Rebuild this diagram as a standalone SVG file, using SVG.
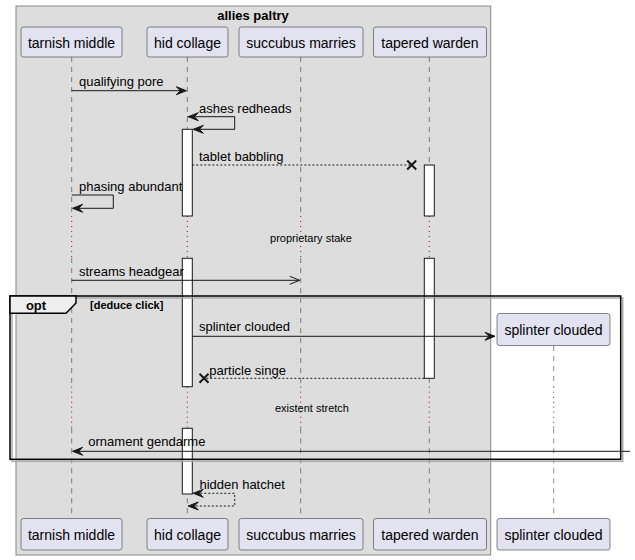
<svg xmlns="http://www.w3.org/2000/svg" width="635" height="560" viewBox="0 0 635 560">
<style>
text{font-family:"Liberation Sans",Arial,sans-serif;fill:#000}
.pt{font-size:14px;text-anchor:middle}
.msg{font-size:13px}
.small{font-size:11px;text-anchor:middle}
.part{fill:#E2E2F0;stroke:#181818;stroke-width:0.5}
.life{stroke:#181818;stroke-width:0.5;stroke-dasharray:5,5;fill:none}
.delay{stroke:#A80036;stroke-width:1;stroke-dasharray:1,4;fill:none}
.act{fill:#FFFFFF;stroke:#181818;stroke-width:1}
.ln{stroke:#181818;stroke-width:1;fill:none}
.dash{stroke:#181818;stroke-width:1;fill:none;stroke-dasharray:2,2}
.ah{fill:#181818;stroke:#181818;stroke-width:1}
.x{stroke:#181818;stroke-width:2}
</style>
<rect x="16" y="6" width="474.7" height="549" fill="#DDDDDD" stroke="#888888" stroke-width="1"/>
<text x="253" y="19.5" font-size="13" font-weight="bold" text-anchor="middle">allies paltry</text>
<g id="lifelines">
<path class="life" d="M71.7,57V216M71.7,258V386.7M71.7,428.3V518.5"/>
<path class="life" d="M187.3,57V216M187.3,258V386.7M187.3,428.3V518.5"/>
<path class="life" d="M300.7,57V216M300.7,258V386.7M300.7,428.3V518.5"/>
<path class="life" d="M429.3,57V216M429.3,258V386.7M429.3,428.3V518.5"/>
<path class="life" d="M553.7,346V386.7M553.7,428.3V518.5"/>
<path class="delay" d="M71.7,216V258M187.3,216V258M300.7,216V258M429.3,216V258"/>
<path class="delay" d="M71.7,386.7V428.3M187.3,386.7V428.3M300.7,386.7V428.3M429.3,386.7V428.3M553.7,386.7V428.3"/>
</g>
<g id="p-tarnish-middle">
<rect class="part" x="21" y="27" width="101" height="30" rx="2.5"/>
<text class="pt" x="71.5" y="48">tarnish middle</text>
<rect class="part" x="21" y="518.5" width="101" height="31.5" rx="2.5"/>
<text class="pt" x="71.5" y="540">tarnish middle</text>
</g>
<g id="p-hid-collage">
<rect class="part" x="147" y="27" width="81" height="30" rx="2.5"/>
<text class="pt" x="187.5" y="48">hid collage</text>
<rect class="part" x="147" y="518.5" width="81" height="31.5" rx="2.5"/>
<text class="pt" x="187.5" y="540">hid collage</text>
</g>
<g id="p-succubus-marries">
<rect class="part" x="239" y="27" width="124" height="30" rx="2.5"/>
<text class="pt" x="301" y="48">succubus marries</text>
<rect class="part" x="239" y="518.5" width="124" height="31.5" rx="2.5"/>
<text class="pt" x="301" y="540">succubus marries</text>
</g>
<g id="p-tapered-warden">
<rect class="part" x="373.5" y="27" width="113" height="30" rx="2.5"/>
<text class="pt" x="430" y="48">tapered warden</text>
<rect class="part" x="373.5" y="518.5" width="113" height="31.5" rx="2.5"/>
<text class="pt" x="430" y="540">tapered warden</text>
</g>
<g id="p-splinter-clouded">
<rect class="part" x="497" y="313.5" width="113" height="32" rx="2.5"/>
<text class="pt" x="553.5" y="335">splinter clouded</text>
<rect class="part" x="497" y="518.5" width="113" height="31.5" rx="2.5"/>
<text class="pt" x="553.5" y="540">splinter clouded</text>
</g>
<g id="activations">
<rect class="act" x="182.3" y="129.3" width="10" height="86.7"/>
<rect class="act" x="182.3" y="258.3" width="10" height="128.4"/>
<rect class="act" x="182.3" y="428.3" width="10" height="65.7"/>
<rect class="act" x="424.3" y="165" width="10" height="51"/>
<rect class="act" x="424.3" y="258.3" width="10" height="120"/>
</g>
<g id="frame-opt">
<rect x="12" y="298" width="610.7" height="163.3" fill="none" stroke="#AAAAAA" stroke-width="1.5"/>
<rect x="10" y="296" width="610.7" height="163.3" fill="none" stroke="#000000" stroke-width="1.5"/>
<path d="M10,296H76V303L66,313.3H10Z" fill="#EEEEEE" stroke="#000000" stroke-width="1.5"/>
<text x="36" y="309.5" font-size="13" font-weight="bold" text-anchor="middle">opt</text>
<text x="90" y="309" font-size="11" font-weight="bold">[deduce click]</text>
</g>
<g id="connectors">
<line class="ln" x1="71.7" y1="90.7" x2="186.3" y2="90.7"/>
<polygon class="ah" points="176.3,86.7 186.3,90.7 176.3,94.7 180.3,90.7"/>
<text class="msg" x="79" y="86">qualifying pore</text>

<polyline class="ln" points="187.3,116.7 234.7,116.7 234.7,129.3 193.3,129.3"/>
<polygon class="ah" points="198.3,112.7 188.3,116.7 198.3,120.7 194.3,116.7"/>
<polygon class="ah" points="203.3,125.3 193.3,129.3 203.3,133.3 199.3,129.3"/>
<text class="msg" x="199" y="112.5">ashes redheads</text>

<line class="dash" x1="192.3" y1="165" x2="411.7" y2="165"/>
<path class="x" d="M407.2,160.5L416.2,169.5M407.2,169.5L416.2,160.5"/>
<text class="msg" x="199" y="160.5">tablet babbling</text>

<polyline class="ln" points="71.7,195 113.3,195 113.3,208.3 72.7,208.3"/>
<polygon class="ah" points="82.7,204.3 72.7,208.3 82.7,212.3 78.7,208.3"/>
<text class="msg" x="79" y="191">phasing abundant</text>

<text class="small" x="311" y="242">proprietary stake</text>

<line class="ln" x1="71.7" y1="280.3" x2="299.7" y2="280.3"/>
<polyline class="ln" points="289.7,276.3 299.7,280.3 289.7,284.3"/>
<text class="msg" x="79" y="276">streams headgear</text>

<line class="ln" x1="192.3" y1="336.3" x2="495" y2="336.3"/>
<polygon class="ah" points="485,332.3 495,336.3 485,340.3 489,336.3"/>
<text class="msg" x="199" y="331">splinter clouded</text>

<line class="dash" x1="424.3" y1="378.3" x2="204" y2="378.3"/>
<path class="x" d="M199.5,373.8L208.5,382.8M199.5,382.8L208.5,373.8"/>
<text class="msg" x="209.3" y="374.5">particle singe</text>

<text class="small" x="312" y="412">existent stretch</text>

<line class="ln" x1="630" y1="451.3" x2="72.7" y2="451.3"/>
<polygon class="ah" points="82.7,447.3 72.7,451.3 82.7,455.3 78.7,451.3"/>
<text class="msg" x="88.3" y="446">ornament gendarme</text>

<polyline class="dash" points="192.3,493.3 234.7,493.3 234.7,506 188.3,506"/>
<polygon class="ah" points="203.3,489.3 193.3,493.3 203.3,497.3 199.3,493.3"/>
<polygon class="ah" points="198.3,502 188.3,506 198.3,510 194.3,506"/>
<text class="msg" x="199.5" y="489">hidden hatchet</text>
</g>
</svg>
